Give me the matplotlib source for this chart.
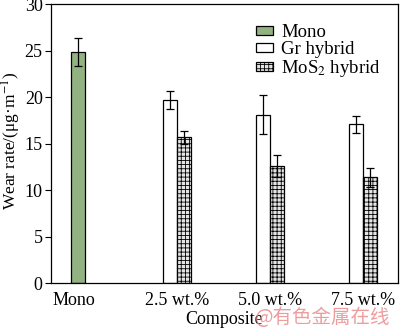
import matplotlib.pyplot as plt
import numpy as np

plt.rcParams['font.family'] = ['Liberation Serif', 'DejaVu Serif']
plt.rcParams['mathtext.fontset'] = 'stix'

categories = ['Mono', '2.5 wt.%', '5.0 wt.%', '7.5 wt.%']
mono_value = [24.9]
mono_err = [1.5]
gr_values = [19.7, 18.1, 17.1]
gr_err = [1.0, 2.1, 0.9]
mos2_values = [15.7, 12.6, 11.4]
mos2_err = [0.7, 1.2, 1.0]

w = 0.15
x = np.arange(1, 4)

fig = plt.figure(figsize=(4.0, 3.32), dpi=100)
ax = fig.add_axes([0.1275, 0.147, 0.8675, 0.84])

err_kw = dict(ecolor='black', capsize=3, elinewidth=0.9, capthick=0.9)
ax.bar([-w / 2], mono_value, w, yerr=mono_err, color='#92b281',
       edgecolor='black', linewidth=0.9, label='Mono', error_kw=err_kw)
ax.bar(x - w / 2, gr_values, w, yerr=gr_err, color='white',
       edgecolor='black', linewidth=0.9, label='Gr hybrid', error_kw=err_kw)
plt.rcParams['hatch.color'] = '#8c8c8c'
plt.rcParams['hatch.linewidth'] = 0.6
ax.bar(x + w / 2, mos2_values, w, yerr=mos2_err, color='#e4e4e4',
       edgecolor='black', linewidth=0.9, hatch='++++',
       label='MoS$_2$ hybrid', error_kw=err_kw)

ax.set_xlim(-0.362, 3.378)
ax.set_ylim(0, 30)
ax.set_yticks([0, 5, 10, 15, 20, 25, 30])
ax.set_xticks([-0.12, 1, 2, 3])
ax.set_xticklabels(categories)
ax.tick_params(axis='x', length=0, labelsize=13, pad=6)
ax.tick_params(axis='y', direction='out', length=4, labelsize=13, pad=2)
for s in ax.spines.values():
    s.set_linewidth(0.9)

ax.set_xlabel('Composite', fontsize=13, labelpad=2)
ax.set_ylabel('Wear rate/(μg·m$^{-1}$)', fontsize=12.5)
ax.yaxis.set_label_coords(-0.082, 0.51)

ax.legend(loc='upper left', bbox_to_anchor=(0.57, 0.955), frameon=False,
          fontsize=13.5, handlelength=0.9, handleheight=0.4,
          handletextpad=0.43, labelspacing=0.0, borderaxespad=0)

fig.text(0.975, 0.045, '@有色金属在线', color='#ec8c8c', alpha=0.85,
         fontsize=14, ha='right', va='center',
         family=['Noto Sans CJK SC', 'DejaVu Sans'])

plt.savefig('out.png', dpi=100)
